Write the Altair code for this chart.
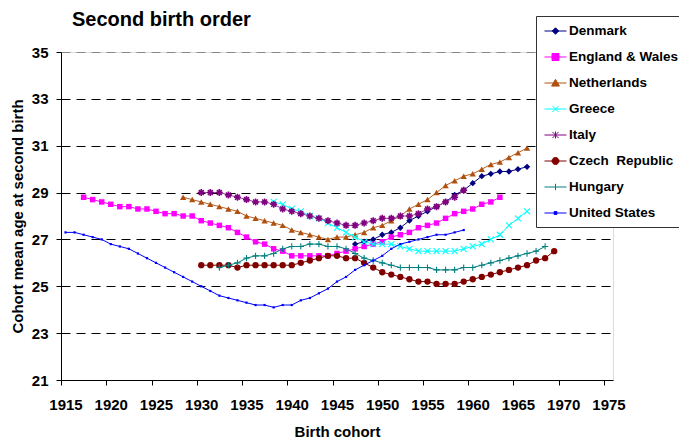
import altair as alt
import pandas as pd

# ---- data ----
CZ = "Czech \u00a0Republic"
names = ["Denmark", "England & Wales", "Netherlands", "Greece", "Italy",
         CZ, "Hungary", "United States"]

denmark_years = list(range(1947, 1967))
denmark = [26.8, 26.9, 27.0, 27.2, 27.3, 27.5, 27.8, 28.0, 28.2, 28.4,
           28.6, 28.9, 29.1, 29.4, 29.7, 29.8, 29.9, 29.9, 30.0, 30.1]

england_years = list(range(1917, 1964))
england = [28.8, 28.7, 28.6, 28.5, 28.4, 28.4, 28.3, 28.3, 28.2, 28.1,
           28.1, 28.0, 28.0, 27.8, 27.7, 27.6, 27.5, 27.3, 27.1, 26.9,
           26.8, 26.6, 26.5, 26.3, 26.3, 26.3, 26.3, 26.3, 26.4, 26.5,
           26.6, 26.7, 26.8, 26.9, 27.1, 27.2, 27.3, 27.5, 27.6, 27.7,
           27.9, 28.1, 28.2, 28.3, 28.5, 28.6, 28.8]

netherlands_years = list(range(1928, 1967))
netherlands = [28.8, 28.7, 28.6, 28.5, 28.4, 28.3, 28.2, 28.0, 27.9, 27.8,
               27.7, 27.6, 27.4, 27.3, 27.2, 27.1, 27.0, 27.1, 27.1, 27.2,
               27.3, 27.5, 27.6, 27.8, 28.0, 28.3, 28.5, 28.7, 29.0, 29.3,
               29.5, 29.7, 29.8, 30.0, 30.2, 30.3, 30.5, 30.7, 30.9]

greece_years = list(range(1938, 1967))
greece = [28.6, 28.5, 28.3, 28.2, 28.0, 27.9, 27.7, 27.5, 27.3, 27.1,
          26.9, 26.8, 26.8, 26.8, 26.7, 26.6, 26.5, 26.5, 26.5, 26.5,
          26.5, 26.6, 26.7, 26.8, 27.0, 27.2, 27.6, 27.9, 28.2]

italy_years = list(range(1930, 1960))
italy = [29.0, 29.0, 29.0, 28.9, 28.8, 28.7, 28.6, 28.6, 28.5, 28.3,
         28.2, 28.1, 28.0, 27.9, 27.8, 27.7, 27.6, 27.6, 27.7, 27.8,
         27.9, 27.9, 28.0, 28.0, 28.1, 28.3, 28.4, 28.6, 28.8, 29.1]

czech_years = list(range(1930, 1970))
czech = [25.9, 25.9, 25.9, 25.9, 25.8, 25.9, 25.9, 25.9, 25.9, 25.9,
         25.9, 26.0, 26.1, 26.2, 26.3, 26.3, 26.2, 26.2, 26.0, 25.8,
         25.6, 25.5, 25.4, 25.3, 25.2, 25.2, 25.1, 25.1, 25.1, 25.2,
         25.3, 25.4, 25.5, 25.6, 25.7, 25.8, 25.9, 26.1, 26.2, 26.5]

hungary_years = list(range(1932, 1969))
hungary = [25.8, 25.9, 26.0, 26.2, 26.3, 26.3, 26.4, 26.6, 26.7, 26.7,
           26.8, 26.8, 26.7, 26.7, 26.6, 26.4, 26.2, 26.1, 26.0, 25.9,
           25.8, 25.8, 25.8, 25.8, 25.7, 25.7, 25.7, 25.8, 25.8, 25.9,
           26.0, 26.1, 26.2, 26.3, 26.4, 26.5, 26.7]

us_years = list(range(1915, 1960))
us = [27.3, 27.3, 27.2, 27.1, 27.0, 26.8, 26.7, 26.6, 26.4, 26.2,
      26.0, 25.8, 25.6, 25.4, 25.2, 25.0, 24.8, 24.6, 24.5, 24.4,
      24.3, 24.2, 24.2, 24.1, 24.2, 24.2, 24.4, 24.5, 24.7, 24.9,
      25.2, 25.4, 25.7, 25.9, 26.1, 26.3, 26.6, 26.8, 26.9, 27.0,
      27.1, 27.2, 27.2, 27.3, 27.4]

x_ticks = [1915, 1920, 1925, 1930, 1935, 1940, 1945, 1950, 1955, 1960, 1965, 1970, 1975]
y_ticks = [21, 23, 25, 27, 29, 31, 33, 35]

series = [
    ("Denmark", denmark_years, denmark),
    ("England & Wales", england_years, england),
    ("Netherlands", netherlands_years, netherlands),
    ("Greece", greece_years, greece),
    ("Italy", italy_years, italy),
    (CZ, czech_years, czech),
    ("Hungary", hungary_years, hungary),
    ("United States", us_years, us),
]
rows = [{"series": n, "year": y, "age": v}
        for n, ys, vs in series for y, v in zip(ys, vs)]
df = pd.DataFrame(rows)

# ---- styling ----
FONT = "Arial, Liberation Sans, sans-serif"
marker_color = {
    "Denmark": "#000080", "England & Wales": "#FF00FF", "Netherlands": "#B0500F",
    "Greece": "#00FFFF", "Italy": "#800080", CZ: "#800000",
    "Hungary": "#008080", "United States": "#0000FF",
}
line_color = {
    "Denmark": "#000080", "England & Wales": "#FF00FF", "Netherlands": "#B86024",
    "Greece": "#00FFFF", "Italy": "#9A40A0", CZ: "#800000",
    "Hungary": "#008080", "United States": "#0000FF",
}
X_PATH = "M-1,-1L1,1M-1,1L1,-1"
PLUS_PATH = "M-1,0H1M0,-1V1"
STAR_PATH = "M-1,0H1M0,-1V1M-0.7,-0.7L0.7,0.7M-0.7,0.7L0.7,-0.7"
marker = {
    "Denmark": dict(shape="diamond", size=40, filled=True),
    "England & Wales": dict(shape="square", size=30, filled=True),
    "Netherlands": dict(shape="triangle-up", size=40, filled=True),
    "Greece": dict(shape=X_PATH, size=36, filled=False, strokeWidth=1.1),
    "Italy": dict(shape=STAR_PATH, size=49, filled=False, strokeWidth=1.6),
    CZ: dict(shape="circle", size=40, filled=True),
    "Hungary": dict(shape=PLUS_PATH, size=40, filled=False, strokeWidth=1.1),
    "United States": dict(shape="square", size=5, filled=True),
}

LINE = "M-1.571,0H1.571"
legend_paths = [
    LINE + "M0,-0.46L0.46,0L0,0.46L-0.46,0Z",
    LINE + "M-0.5,-0.5H0.5V0.5H-0.5Z",
    LINE + "M0,-0.52L0.56,0.44H-0.56Z",
    LINE + "M-0.44,-0.44L0.44,0.44M-0.44,0.44L0.44,-0.44",
    LINE + "M-0.44,-0.44L0.44,0.44M-0.44,0.44L0.44,-0.44M0,-0.5V0.5",
    LINE + "M-0.5,0A0.5,0.5 0 1,0 0.5,0A0.5,0.5 0 1,0 -0.5,0Z",
    LINE + "M0,-0.46V0.46",
    LINE + "M-0.2,-0.2H0.2V0.2H-0.2Z",
]
legend_fill = [marker_color[n] if marker[n]["filled"] else "transparent" for n in names]
legend_stroke = [marker_color[n] for n in names]

x_axis = alt.Axis(
    values=x_ticks, format="d", grid=False,
    labelFont=FONT, labelFontSize=15, labelFontWeight="bold", labelColor="black",
    titleFont=FONT, titleFontSize=15, titleFontWeight="bold", titleColor="black",
    domainColor="black", tickColor="black", tickSize=5,
    tickOffset=-4.5, labelOffset=4.5, labelPadding=12, titlePadding=12,
    labelFlush=False, labelOverlap=False,
)
y_axis = alt.Axis(
    values=y_ticks, grid=True,
    gridColor={"condition": {"test": "datum.value === 35", "value": "#888888"},
               "value": "#000000"},
    gridDash=[9, 6], gridWidth=1,
    labelFont=FONT, labelFontSize=15, labelFontWeight="bold", labelColor="black",
    titleFont=FONT, titleFontSize=15, titleFontWeight="bold", titleColor="black",
    domainColor="black", tickColor="black", tickSize=5,
    labelPadding=8, titlePadding=6,
)

base = alt.Chart(df).encode(
    x=alt.X("year:Q", title="Birth cohort",
            scale=alt.Scale(domain=[1914.5, 1975.5], nice=False, zero=False),
            axis=x_axis),
    y=alt.Y("age:Q", title="Cohort mean age at second birth",
            scale=alt.Scale(domain=[21, 35], nice=False, zero=False),
            axis=y_axis),
)

layers = []
for n in names:
    sub = base.transform_filter(alt.datum.series == n)
    layers.append(sub.mark_line(color=line_color[n], strokeWidth=1))
    m = dict(marker[n])
    layers.append(sub.mark_point(color=marker_color[n], opacity=1, **m))

leg = alt.Legend(
    title=None, orient="none", legendX=475, legendY=-36,
    padding=7.5, rowPadding=12, symbolSize=196, symbolStrokeWidth=1,
    symbolOffset=4.5, labelOffset=6,
    labelFont=FONT, labelFontSize=13.5, labelFontWeight="bold", labelColor="black",
    labelLimit=200, strokeColor="#333333", fillColor="white",
)
legend_layer = alt.Chart(df).transform_filter("datum.age < 0").mark_point(
    opacity=1, filled=False
).encode(
    shape=alt.Shape("series:N", scale=alt.Scale(domain=names, range=legend_paths), legend=leg),
    stroke=alt.Stroke("series:N", scale=alt.Scale(domain=names, range=legend_stroke), legend=leg),
    fill=alt.Fill("series:N", scale=alt.Scale(domain=names, range=legend_fill), legend=leg),
)

chart = alt.layer(*layers, legend_layer).properties(
    width=552, height=328,
    title=alt.Title("Second birth order", anchor="start", frame="group", dx=11, offset=-14,
                    font=FONT, fontSize=20, fontWeight="bold", color="black"),
    autosize=alt.AutoSizeParams(type="none"),
    padding={"left": 53, "top": 44, "right": 66, "bottom": 58},
).configure_view(stroke="#888888", strokeWidth=1).configure(background="white")

chart.save("out.html", embed_options={"renderer": "svg", "actions": False})
